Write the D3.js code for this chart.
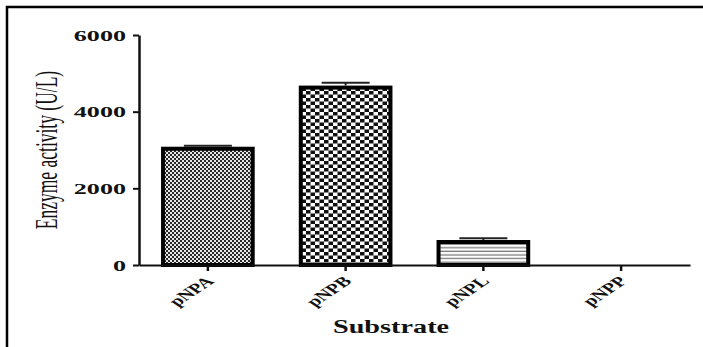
<!DOCTYPE html>
<html>
<head>
<meta charset="utf-8">
<script src="https://cdn.jsdelivr.net/npm/d3@7"></script>
<style>
  body { margin: 0; background: #fff; }
  text { font-family: "Liberation Serif", "Times New Roman", serif; fill: #111; }
</style>
</head>
<body>
<script>
// values
var substrates = ["pNPA", "pNPB", "pNPL", "pNPP"];
var activity = [3085, 4680, 652, 0];
var errors = [25, 75, 45, 0];
var yTicks = [0, 2000, 4000, 6000];
var patterns = ["fine", "check", "lines", "none"];

var W = 703, H = 347;
var mLeft = 139, mRight = 690, mTop = 35, mBottom = 265;
var sx = 1.8; // the source picture is stretched sideways

var svg = d3.select("body").append("svg")
    .attr("width", W)
    .attr("height", H);

// fill patterns
var defs = svg.append("defs");
var p1 = defs.append("pattern").attr("id", "fine")
    .attr("patternUnits", "userSpaceOnUse").attr("width", 4).attr("height", 4);
p1.append("rect").attr("width", 4).attr("height", 4).attr("fill", "#e6e6e6");
p1.append("rect").attr("width", 2).attr("height", 2).attr("fill", "#2a2a2a");
p1.append("rect").attr("x", 2).attr("y", 2).attr("width", 2).attr("height", 2).attr("fill", "#2a2a2a");

var p2 = defs.append("pattern").attr("id", "check")
    .attr("patternUnits", "userSpaceOnUse").attr("width", 9).attr("height", 7);
p2.append("rect").attr("width", 9).attr("height", 7).attr("fill", "#fff");
p2.append("rect").attr("width", 4.5).attr("height", 3.5).attr("fill", "#111");
p2.append("rect").attr("x", 4.5).attr("y", 3.5).attr("width", 4.5).attr("height", 3.5).attr("fill", "#111");

var p3 = defs.append("pattern").attr("id", "lines")
    .attr("patternUnits", "userSpaceOnUse").attr("width", 8).attr("height", 3.6);
p3.append("rect").attr("width", 8).attr("height", 3.6).attr("fill", "#fff");
p3.append("rect").attr("y", 2.4).attr("width", 8).attr("height", 1).attr("fill", "#555");

// frame (top and left only)
svg.append("path")
    .attr("d", "M7,347V7H703")
    .attr("fill", "none")
    .attr("stroke", "#000")
    .attr("stroke-width", 2.5);

var x = d3.scaleBand()
    .domain(substrates)
    .range([mLeft, mRight])
    .paddingInner(0.32)
    .paddingOuter(0.16);

var y = d3.scaleLinear()
    .domain([0, 6000])
    .range([mBottom, mTop]);

// bars
var bars = svg.selectAll(".bar")
    .data(substrates)
  .enter().append("g")
    .attr("class", "bar");

bars.filter(function(d, i) { return activity[i] > 0; })
  .append("rect")
    .attr("x", function(d) { return x(d) + 2; })
    .attr("y", function(d) { var i = substrates.indexOf(d); return y(activity[i]) + 2; })
    .attr("width", x.bandwidth() - 4)
    .attr("height", function(d) { var i = substrates.indexOf(d); return y(0) - y(activity[i]) - 2; })
    .attr("fill", function(d) { return "url(#" + patterns[substrates.indexOf(d)] + ")"; })
    .attr("stroke", "#000")
    .attr("stroke-width", 4);

// error bars (upper half only)
bars.filter(function(d, i) { return errors[i] > 0; })
  .append("path")
    .attr("d", function(d) {
      var i = substrates.indexOf(d);
      var cx = x(d) + x.bandwidth() / 2;
      var y0 = y(activity[i]), y1 = y(activity[i] + errors[i]);
      return "M" + cx + "," + y0 + "V" + y1 + "M" + (cx - 24) + "," + y1 + "H" + (cx + 24);
    })
    .attr("fill", "none")
    .attr("stroke", "#222")
    .attr("stroke-width", 2);

// y axis
var yAxis = svg.append("g")
    .attr("transform", "translate(" + mLeft + ",0)")
    .call(d3.axisLeft(y).tickValues(yTicks).tickSize(6).tickSizeOuter(0).tickFormat(d3.format("d")));
yAxis.select(".domain").attr("stroke", "#111").attr("stroke-width", 2.5);
yAxis.selectAll(".tick line").attr("stroke", "#111").attr("stroke-width", 2);
yAxis.selectAll(".tick text")
    .attr("x", null).attr("dy", null)
    .attr("transform", "translate(-13,5) scale(" + sx + ",1)")
    .style("font-family", "Liberation Serif, serif")
    .style("font-size", "14.5px")
    .style("font-weight", "bold")
    .attr("fill", "#111");

// x axis
var xAxis = svg.append("g")
    .attr("transform", "translate(0," + mBottom + ")")
    .call(d3.axisBottom(x).tickSize(6).tickSizeOuter(0));
xAxis.select(".domain").attr("stroke", "#111").attr("stroke-width", 2);
xAxis.selectAll(".tick text")
    .attr("y", null).attr("dy", null)
    .attr("text-anchor", "end")
    .attr("transform", "translate(7,17) scale(1.5,1) rotate(-45)")
    .style("font-family", "Liberation Serif, serif")
    .style("font-size", "14px")
    .style("font-weight", "bold")
    .attr("fill", "#111");
xAxis.selectAll(".tick line").attr("stroke", "#111").attr("stroke-width", 2.5);

// axis titles
svg.append("text")
    .attr("transform", "translate(57,150) scale(1.8,1) rotate(-90)")
    .attr("text-anchor", "middle")
    .style("font-size", "17.5px")
    .text("Enzyme activity (U/L)");

svg.append("text")
    .attr("transform", "translate(391,333) scale(1.45,1)")
    .attr("text-anchor", "middle")
    .style("font-size", "19.5px")
    .style("font-weight", "bold")
    .text("Substrate");
</script>
</body>
</html>
